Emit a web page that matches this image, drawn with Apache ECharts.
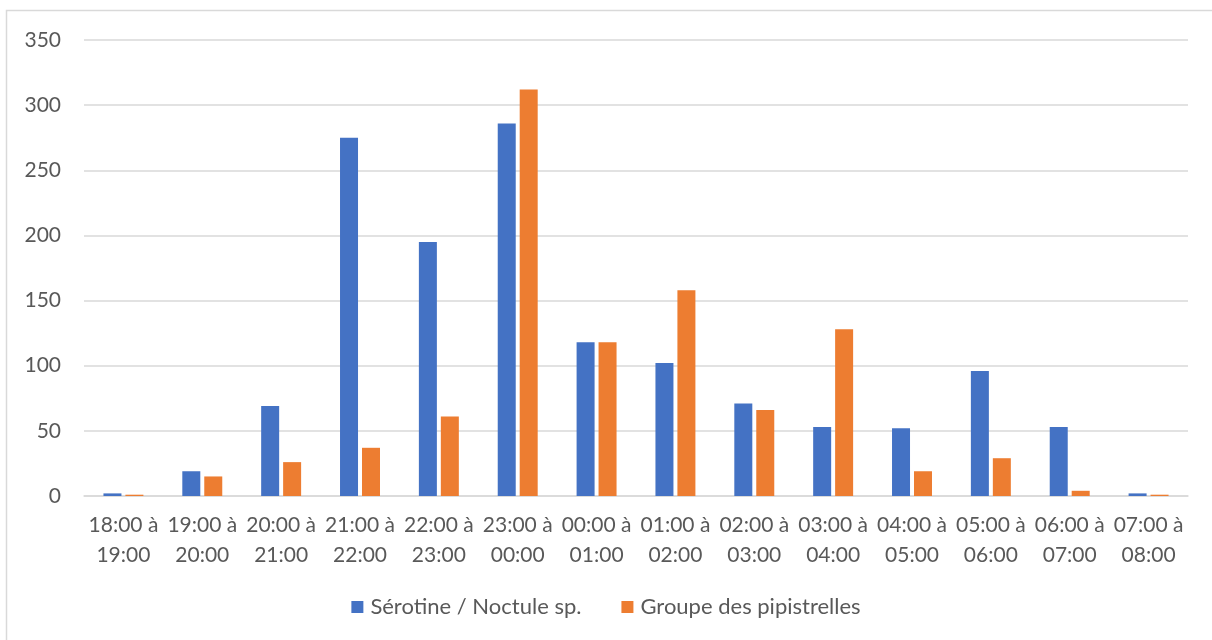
<!DOCTYPE html>
<html>
<head>
<meta charset="utf-8">
<script src="https://cdn.jsdelivr.net/npm/echarts@6/dist/echarts.min.js"></script>
<style>
  html, body { margin: 0; padding: 0; background: #ffffff; }
  #chart { width: 1212px; height: 640px; }
</style>
</head>
<body>
<div id="chart"></div>
<script>
// Hourly time slots (start à end)
const categories = [
  '18:00 à\n19:00', '19:00 à\n20:00', '20:00 à\n21:00', '21:00 à\n22:00',
  '22:00 à\n23:00', '23:00 à\n00:00', '00:00 à\n01:00', '01:00 à\n02:00',
  '02:00 à\n03:00', '03:00 à\n04:00', '04:00 à\n05:00', '05:00 à\n06:00',
  '06:00 à\n07:00', '07:00 à\n08:00'
];
const seriesNames = ['Sérotine / Noctule sp.', 'Groupe des pipistrelles'];
const serotineNoctule = [2, 19, 69, 275, 195, 286, 118, 102, 71, 53, 52, 96, 53, 2];
const pipistrelles = [1, 15, 26, 37, 61, 312, 118, 158, 66, 128, 19, 29, 4, 1];
const yTicks = { min: 0, max: 350, interval: 50 };

const font = 'Lato, "Open Sans", "Liberation Sans", sans-serif';
const textColor = '#595959';
const lineColor = '#d9d9d9';

const chart = echarts.init(document.getElementById('chart'), null, { renderer: 'canvas' });
chart.setOption({
  backgroundColor: '#ffffff',
  animation: false,
  graphic: [{
    type: 'rect',
    shape: { x: 6.5, y: 10.5, width: 1220, height: 640 },
    style: { fill: 'none', stroke: lineColor, lineWidth: 1.5 },
    silent: true
  }],
  grid: { left: 84, right: 24, top: 40, bottom: 144, containLabel: false },
  legend: {
    data: seriesNames,
    bottom: 17,
    left: 'center',
    icon: 'rect',
    itemWidth: 12,
    itemHeight: 12,
    itemGap: 40,
    textStyle: { color: textColor, fontSize: 22, fontFamily: font, padding: [0, 0, 0, 2] }
  },
  xAxis: {
    type: 'category',
    data: categories,
    axisLine: { show: true, lineStyle: { color: lineColor, width: 1.5 } },
    axisTick: { show: false },
    axisLabel: {
      color: textColor, fontSize: 21, fontFamily: font,
      lineHeight: 30, margin: 14, interval: 0
    },
    splitLine: { show: false }
  },
  yAxis: {
    type: 'value',
    min: yTicks.min, max: yTicks.max, interval: yTicks.interval,
    axisLine: { show: false },
    axisTick: { show: false },
    axisLabel: { color: textColor, fontSize: 21, fontFamily: font, margin: 23 },
    splitLine: { lineStyle: { color: lineColor, width: 1.5 } }
  },
  series: [
    {
      name: seriesNames[0], type: 'bar', data: serotineNoctule,
      barWidth: 18, barGap: '22%',
      itemStyle: { color: '#4472c4' }
    },
    {
      name: seriesNames[1], type: 'bar', data: pipistrelles,
      barWidth: 18, barGap: '22%',
      itemStyle: { color: '#ed7d31' }
    }
  ]
});
</script>
</body>
</html>
